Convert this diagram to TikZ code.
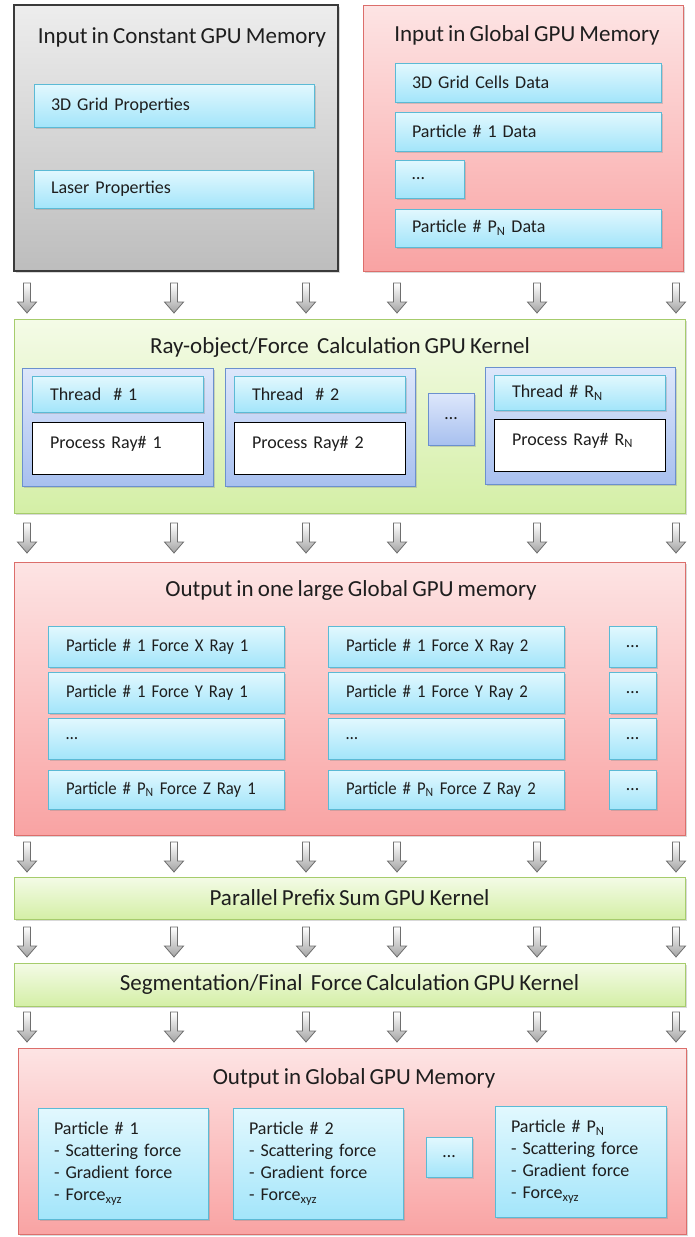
\documentclass[tikz,border=0pt]{standalone}
\usepackage{fontspec}
\setmainfont{Carlito}[WordSpace=0.8]
\newfontfamily\narrowfont{Carlito}[WordSpace=0.7, FakeStretch=0.93]
\newcommand*{\bodyfont}{\fontsize{18}{22}\selectfont}
\newcommand*{\headfont}{\fontsize{23}{28}\selectfont}
\definecolor{ink}{HTML}{1E1E1E}
\definecolor{graytop}{HTML}{EDEDED}
\definecolor{graybot}{HTML}{BDBDBD}
\definecolor{grayedge}{HTML}{3A3A3A}
\definecolor{pinktop}{HTML}{FDE4E4}
\definecolor{pinkbot}{HTML}{F9A3A3}
\definecolor{pinkedge}{HTML}{DC6E6B}
\definecolor{greentop}{HTML}{F4FBE7}
\definecolor{greenbot}{HTML}{D4EFA6}
\definecolor{greenedge}{HTML}{A6CC6C}
\definecolor{bluetop}{HTML}{DDE7FB}
\definecolor{bluebot}{HTML}{A8C0EF}
\definecolor{blueedge}{HTML}{6B90CE}
\definecolor{cyantop}{HTML}{E2F8FE}
\definecolor{cyanbot}{HTML}{A3E5FA}
\definecolor{cyanedge}{HTML}{5BBAD5}
\definecolor{arrowbot}{HTML}{A3A3A3}
\definecolor{arrowedge}{HTML}{6E6E6E}
\usepackage{tikz}
\usetikzlibrary{shadows}
\tikzstyle{base}=[inner sep=0pt, outer sep=0pt, text=ink]
\tikzstyle{softshadow}=[drop shadow={shadow xshift=1.5pt, shadow yshift=-2pt, opacity=0.3}]
\tikzstyle{bigbox}=[anchor=north west, line width=1pt, softshadow]
\tikzstyle{graybox}=[bigbox, draw=grayedge, line width=1.3pt, top color=graytop, bottom color=graybot]
\tikzstyle{pinkbox}=[bigbox, draw=pinkedge, top color=pinktop, bottom color=pinkbot]
\tikzstyle{greenbox}=[bigbox, draw=greenedge, top color=greentop, bottom color=greenbot, font=\headfont]
\tikzstyle{bluebox}=[bigbox, draw=blueedge, top color=bluetop, bottom color=bluebot]
\tikzstyle{cyanbox}=[bigbox, draw=cyanedge, top color=cyantop, bottom color=cyanbot, inner xsep=17pt, align=left, font=\bodyfont]
\tikzstyle{rowbox}=[cyanbox, inner xsep=18pt, text width=200pt, font=\bodyfont\narrowfont]
\tikzstyle{dotbox}=[cyanbox, inner xsep=0pt, align=center]
\tikzstyle{procbox}=[anchor=north west, draw=black, fill=white, line width=1pt, inner xsep=18pt, align=left, text height=13pt, text depth=13pt, font=\bodyfont]
\tikzstyle{headtext}=[font=\headfont]
\tikzstyle{dnarrow}=[draw=arrowedge, line width=0.8pt, top color=white, bottom color=arrowbot]

\begin{document}
\begin{tikzpicture}[base, x=1pt, y=-1pt]
    \path [use as bounding box] (0,0) rectangle (694,1237);

    % input memories
    \node [graybox, minimum width=324pt, minimum height=266pt] (constmem) at (14,5) {};
    \node [headtext] (constmemhead) at (182,37) {Input in Constant GPU Memory};
    \node [cyanbox, text width=246pt, minimum height=43pt] (gridprop) at (34,84) {3D Grid Properties};
    \node [cyanbox, text width=245pt, minimum height=38pt] (laserprop) at (34,170) {Laser Properties};

    \node [pinkbox, minimum width=320pt, minimum height=266pt] (globmem) at (363,5) {};
    \node [headtext] (globmemhead) at (527,35) {Input in Global GPU Memory};
    \node [cyanbox, text width=232pt, minimum height=39pt] (celldata) at (395,63) {3D Grid Cells Data};
    \node [cyanbox, text width=232pt, minimum height=39pt] (onedata) at (395,112) {Particle \# 1 Data};
    \node [cyanbox, text width=35pt, minimum height=38pt] (dotdata) at (395,160) {…};
    \node [cyanbox, text width=232pt, minimum height=38pt] (pndata) at (395,209) {Particle \# P\textsubscript{N} Data};

    % ray kernel
    \node [greenbox, minimum width=671pt, minimum height=194pt] (raykernel) at (14,319) {};
    \node [headtext] (raykernelhead) at (340,347) {Ray-object/Force~ Calculation GPU Kernel};
    \node [bluebox, minimum width=191pt, minimum height=118pt] (groupone) at (22,368) {};
    \node [cyanbox, inner xsep=18pt, text width=135pt, minimum height=36pt] (threadone) at (32,376) {Thread~ \# 1};
    \node [procbox, text width=135pt, minimum height=52pt] (procone) at (32,422) {Process Ray\# 1};
    \node [bluebox, minimum width=190pt, minimum height=118pt] (grouptwo) at (225,368) {};
    \node [cyanbox, inner xsep=18pt, text width=135pt, minimum height=36pt] (threadtwo) at (234,376) {Thread~ \# 2};
    \node [procbox, text width=135pt, minimum height=52pt] (proctwo) at (234,422) {Process Ray\# 2};
    \node [bluebox, minimum width=46pt, minimum height=52pt, font=\bodyfont] (groupdots) at (428,393) {…};
    \node [bluebox, minimum width=190pt, minimum height=117pt] (grouprn) at (485,367) {};
    \node [cyanbox, inner xsep=18pt, text width=135pt, minimum height=35pt] (threadrn) at (494,375) {Thread \# R\textsubscript{N}};
    \node [procbox, text width=135pt, minimum height=52pt] (procrn) at (494,419) {Process Ray\# R\textsubscript{N}};

    % ray output
    \node [pinkbox, minimum width=671pt, minimum height=273pt] (rayout) at (14,562) {};
    \node [headtext] (rayouthead) at (351,590) {Output in one large Global GPU memory};
    \node [rowbox, minimum height=41pt] (xone) at (48,626) {Particle \# 1 Force X Ray 1};
    \node [rowbox, minimum height=41pt] (yone) at (48,672) {Particle \# 1 Force Y Ray 1};
    \node [rowbox, minimum height=41pt] (dotone) at (48,718) {…};
    \node [rowbox, minimum height=39pt] (zone) at (48,770) {Particle \# P\textsubscript{N} Force Z Ray 1};
    \node [rowbox, minimum height=41pt] (xtwo) at (328,626) {Particle \# 1 Force X Ray 2};
    \node [rowbox, minimum height=41pt] (ytwo) at (328,672) {Particle \# 1 Force Y Ray 2};
    \node [rowbox, minimum height=41pt] (dottwo) at (328,718) {…};
    \node [rowbox, minimum height=39pt] (ztwo) at (328,770) {Particle \# P\textsubscript{N} Force Z Ray 2};
    \node [dotbox, text width=47pt, minimum height=41pt] (xmore) at (609,626) {…};
    \node [dotbox, text width=47pt, minimum height=41pt] (ymore) at (609,672) {…};
    \node [dotbox, text width=47pt, minimum height=41pt] (dotmore) at (609,718) {…};
    \node [dotbox, text width=47pt, minimum height=39pt] (zmore) at (609,770) {…};

    % scan and segmentation kernels
    \node [greenbox, minimum width=671pt, minimum height=42pt] (scankernel) at (14,877) {Parallel Prefix Sum GPU Kernel};
    \node [greenbox, minimum width=671pt, minimum height=43pt] (segkernel) at (14,963) {Segmentation/Final~ Force Calculation GPU Kernel};

    % final output
    \node [pinkbox, minimum width=668pt, minimum height=186pt] (finalout) at (18,1048) {};
    \node [headtext] (finalouthead) at (354,1078) {Output in Global GPU Memory};
    \node [cyanbox, inner xsep=16pt, text width=138pt, minimum height=111pt] (partone) at (38,1108) {Particle \# 1\\- Scattering force\\- Gradient force\\- Force\textsubscript{xyz}};
    \node [cyanbox, inner xsep=16pt, text width=138pt, minimum height=111pt] (parttwo) at (233,1108) {Particle \# 2\\- Scattering force\\- Gradient force\\- Force\textsubscript{xyz}};
    \node [dotbox, text width=46pt, minimum height=40pt] (partdots) at (426,1137) {…};
    \node [cyanbox, inner xsep=16pt, text width=139pt, minimum height=111pt] (partpn) at (495,1106) {Particle \# P\textsubscript{N}\\- Scattering force\\- Gradient force\\- Force\textsubscript{xyz}};

    % block arrows between stages
    \foreach \y in {283,523,842,927,1012}
        \foreach \x in {27,174,306,397,537,676}
            \draw [dnarrow] (\x-3.5,\y) -- (\x+3.5,\y) -- (\x+3.5,\y+19) -- (\x+9.5,\y+19)
                -- (\x,\y+30) -- (\x-9.5,\y+19) -- (\x-3.5,\y+19) -- cycle;
\end{tikzpicture}
\end{document}
